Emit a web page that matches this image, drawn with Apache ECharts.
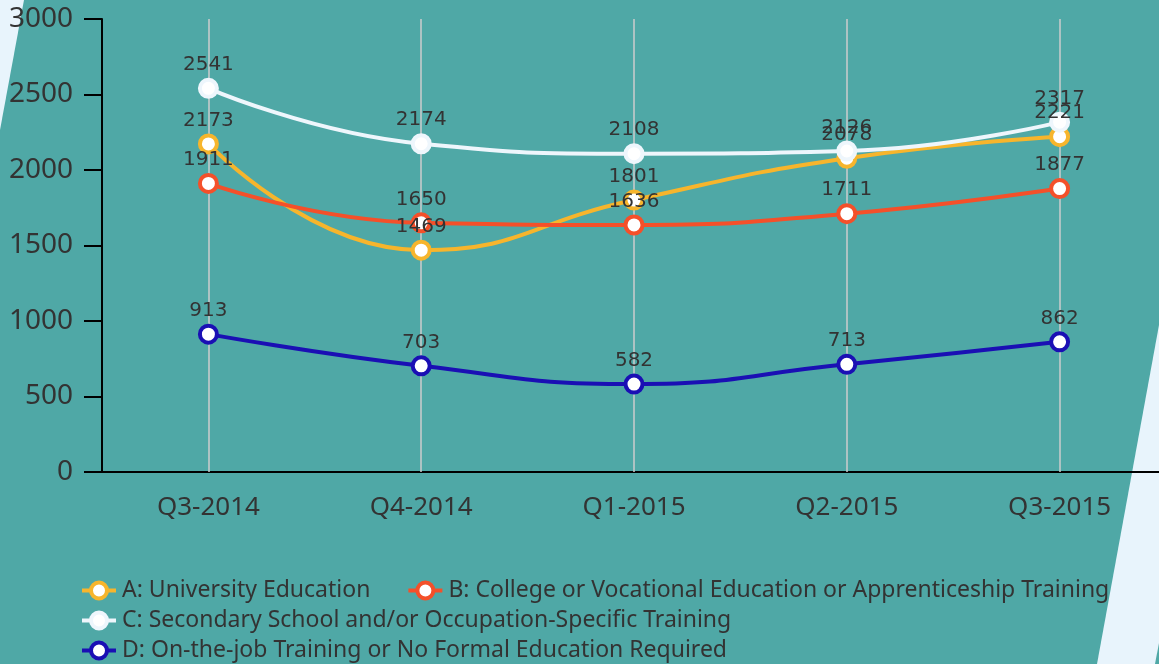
<!DOCTYPE html>
<html>
<head>
<meta charset="utf-8">
<script src="https://cdn.jsdelivr.net/npm/echarts@6/dist/echarts.min.js"></script>
<style>
  html, body { margin: 0; padding: 0; background: #4fa8a6; }
  #chart { width: 1159px; height: 664px; }
</style>
</head>
<body>
<div id="chart"></div>
<script>
var quarters = ['Q3-2014', 'Q4-2014', 'Q1-2015', 'Q2-2015', 'Q3-2015'];
var seriesNames = [
  'A: University Education',
  'B: College or Vocational Education or Apprenticeship Training',
  'C: Secondary School and/or Occupation-Specific Training',
  'D: On-the-job Training or No Formal Education Required'
];
var university = [2173, 1469, 1801, 2078, 2221];
var college = [1911, 1650, 1636, 1711, 1877];
var secondary = [2541, 2174, 2108, 2126, 2317];
var onTheJob = [913, 703, 582, 713, 862];
var colors = ['#f7b52c', '#f4502a', '#eef6fc', '#1a0fb4'];

var myChart = echarts.init(document.getElementById('chart'));

function makeSeries(name, data, color) {
  return {
    name: name,
    type: 'line',
    data: data,
    smooth: true,
    symbol: 'circle',
    symbolSize: 17,
    lineStyle: { color: color, width: 4 },
    itemStyle: { color: '#ffffff', borderColor: color, borderWidth: 4 },
    label: {
      show: true,
      position: 'top',
      distance: 3,
      color: '#333',
      fontSize: 20,
      fontFamily: 'DejaVu Sans'
    }
  };
}

var series = [
  makeSeries(seriesNames[0], university, colors[0]),
  makeSeries(seriesNames[1], college, colors[1]),
  makeSeries(seriesNames[2], secondary, colors[2]),
  makeSeries(seriesNames[3], onTheJob, colors[3])
];
// vertical guide lines at each quarter
series[0].markLine = {
  silent: true,
  symbol: 'none',
  label: { show: false },
  lineStyle: { color: '#cccccc', width: 1.5, type: 'solid' },
  z: 1,
  data: quarters.map(function(q) { return { xAxis: q }; })
};

function legendRow(top, names) {
  return {
    left: 80,
    top: top,
    itemGap: 36,
    itemWidth: 34,
    itemHeight: 20,
    padding: 0,
    orient: 'horizontal',
    lineStyle: { width: 4 },
    itemStyle: { borderWidth: 4 },
    textStyle: { color: '#333', fontSize: 23, fontFamily: 'Noto Sans', padding: [0, 0, 0, 1] },
    data: names
  };
}

var option = {
  backgroundColor: '#4fa8a6',
  animation: false,
  textStyle: { fontFamily: 'Noto Sans' },
  graphic: [
    {
      type: 'polygon',
      z: -10,
      shape: { points: [[0, 0], [24, 0], [0, 130]] },
      style: { fill: '#e8f4fc' }
    },
    {
      type: 'polygon',
      z: -10,
      shape: { points: [[1159, 325], [1097, 664], [1155, 664], [1159, 643]] },
      style: { fill: '#e8f4fc' }
    }
  ],
  grid: { left: 102, width: 1064, top: 19, bottom: 192, containLabel: false, outerBoundsMode: 'none' },
  legend: [
    legendRow(579, [seriesNames[0], seriesNames[1]]),
    legendRow(609, [seriesNames[2]]),
    legendRow(639, [seriesNames[3]])
  ],
  xAxis: {
    type: 'category',
    data: quarters,
    boundaryGap: true,
    axisLine: { lineStyle: { color: '#000', width: 2 } },
    axisTick: { alignWithLabel: true, length: 18, lineStyle: { color: '#000', width: 2 } },
    axisLabel: { color: '#333', fontSize: 26, margin: 23, fontFamily: 'Noto Sans' },
    splitLine: { show: false }
  },
  yAxis: {
    type: 'value',
    min: 0,
    max: 3000,
    interval: 500,
    axisLine: { show: true, lineStyle: { color: '#000', width: 2 } },
    axisTick: { show: true, length: 18, lineStyle: { color: '#000', width: 2 } },
    axisLabel: {
      color: '#333', fontSize: 28, margin: 29, fontFamily: 'Noto Sans',
      formatter: function(v) { return String(v); }
    },
    splitLine: { show: false }
  },
  series: series
};
myChart.setOption(option);
</script>
</body>
</html>
